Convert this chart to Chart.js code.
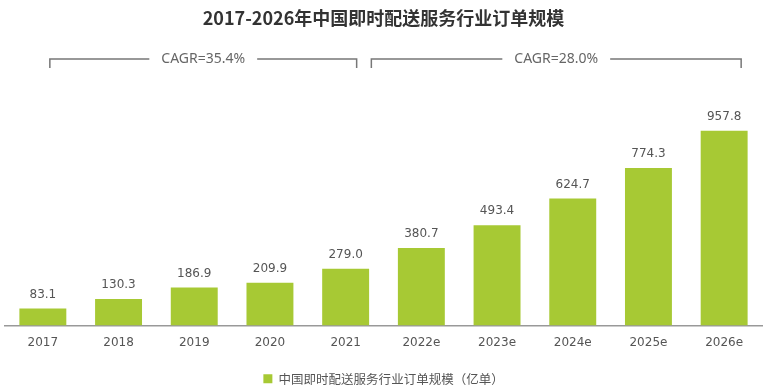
<!DOCTYPE html>
<html>
<head>
<meta charset="utf-8">
<script src="https://cdn.jsdelivr.net/npm/chart.js@4"></script>
<style>
  html, body { margin: 0; padding: 0; background: #fff; }
  #wrap { width: 766px; height: 390px; }
</style>
</head>
<body>
<div id="wrap"><canvas id="order-chart"></canvas></div>
<script>
const years = ['2017', '2018', '2019', '2020', '2021', '2022e', '2023e', '2024e', '2025e', '2026e'];
const orders = [83.1, 130.3, 186.9, 209.9, 279.0, 380.7, 493.4, 624.7, 774.3, 957.8];
const cagrLabels = ['CAGR=35.4%', 'CAGR=28.0%'];

const green = '#a7c934';

// value labels above each bar
const barValues = {
    id: 'barValues',
    afterDatasetsDraw(chart) {
        const ctx = chart.ctx;
        const meta = chart.getDatasetMeta(0);
        ctx.save();
        ctx.font = '12px "DejaVu Sans"';
        ctx.fillStyle = '#555';
        ctx.textAlign = 'center';
        ctx.textBaseline = 'middle';
        meta.data.forEach((bar, i) => {
            ctx.fillText(orders[i].toFixed(1), bar.x, bar.y - 14);
        });
        ctx.restore();
    }
};

// CAGR brackets over the two periods
const cagrBrackets = {
    id: 'cagrBrackets',
    afterDraw(chart) {
        const ctx = chart.ctx;
        const x = chart.scales.x;
        const y = 59, drop = 9;
        const spans = [
            [x.getPixelForValue(0) + 7, x.getPixelForValue(4) + 11, cagrLabels[0]],
            [x.getPixelForValue(5) - 50, x.getPixelForValue(9) + 17, cagrLabels[1]]
        ];
        ctx.save();
        ctx.strokeStyle = '#777';
        ctx.lineWidth = 1.5;
        ctx.font = '14px "Noto Sans"';
        ctx.fillStyle = '#666';
        ctx.textAlign = 'center';
        ctx.textBaseline = 'middle';
        spans.forEach(([x0, x1, label]) => {
            const mid = (x0 + x1) / 2;
            const half = ctx.measureText(label).width / 2 + 12;
            ctx.beginPath();
            ctx.moveTo(x0, y + drop);
            ctx.lineTo(x0, y);
            ctx.lineTo(mid - half, y);
            ctx.moveTo(mid + half, y);
            ctx.lineTo(x1, y);
            ctx.lineTo(x1, y + drop);
            ctx.stroke();
            ctx.fillText(label, mid, y);
        });
        ctx.restore();
    }
};

new Chart(document.getElementById('order-chart'), {
    type: 'bar',
    data: {
        labels: years,
        datasets: [{
            label: '中国即时配送服务行业订单规模（亿单）',
            data: orders,
            backgroundColor: green,
            borderWidth: 0,
            barPercentage: 0.62,
            categoryPercentage: 1
        }]
    },
    options: {
        responsive: true,
        maintainAspectRatio: false,
        animation: false,
        layout: { padding: { left: 5, right: 4, bottom: -5 } },
        scales: {
            x: {
                grid: { display: false, drawTicks: false },
                border: { color: '#999', width: 1.5 },
                ticks: { color: '#555', font: { family: 'DejaVu Sans', size: 12 }, padding: 10 },
                afterFit(scale) { scale.height = 43; }
            },
            y: {
                display: false,
                min: 0,
                max: 1160
            }
        },
        plugins: {
            title: {
                display: true,
                text: '2017-2026年中国即时配送服务行业订单规模',
                color: '#333',
                font: { family: 'Noto Sans CJK SC', size: 18, weight: 'bold' },
                padding: { top: 7, bottom: 61 }
            },
            legend: {
                position: 'bottom',
                labels: {
                    boxWidth: 9,
                    boxHeight: 9,
                    color: '#555',
                    font: { family: 'Noto Sans CJK SC', size: 12.5 },
                    padding: 4
                }
            },
            tooltip: { enabled: false }
        }
    },
    plugins: [barValues, cagrBrackets]
});
</script>
</body>
</html>
